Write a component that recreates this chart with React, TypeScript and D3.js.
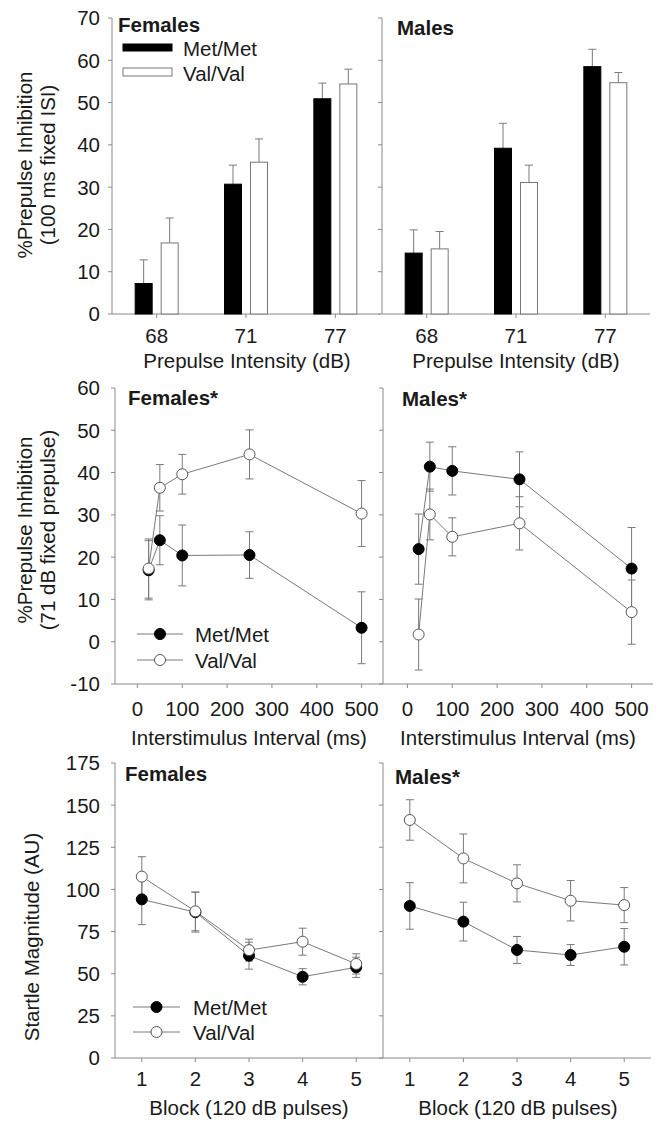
import React, { useEffect, useRef } from 'react';
import * as d3 from 'd3';

// ---- data ----
const intensities = ['68', '71', '77'];
const genotypes = ['Met/Met', 'Val/Val'];

const femaleBarMet = [7.2, 30.7, 50.9];
const femaleBarMetErr = [5.6, 4.5, 3.7];
const femaleBarVal = [16.8, 35.9, 54.4];
const femaleBarValErr = [5.9, 5.5, 3.5];
const maleBarMet = [14.4, 39.2, 58.5];
const maleBarMetErr = [5.5, 5.9, 4.1];
const maleBarVal = [15.4, 31.1, 54.7];
const maleBarValErr = [4.1, 4.1, 2.4];

const isiValues = [25, 50, 100, 250, 500];
const femaleIsiMet = [16.9, 24.0, 20.4, 20.5, 3.3];
const femaleIsiMetErr = [7.0, 5.8, 7.2, 5.5, 8.5];
const femaleIsiVal = [17.3, 36.4, 39.6, 44.3, 30.3];
const femaleIsiValErr = [7.0, 5.5, 4.7, 5.8, 7.8];
const maleIsiMet = [21.9, 41.4, 40.4, 38.4, 17.3];
const maleIsiMetErr = [8.3, 5.8, 5.7, 6.5, 9.7];
const maleIsiVal = [1.7, 30.1, 24.8, 28.0, 7.0];
const maleIsiValErr = [8.4, 6.0, 4.5, 6.3, 7.6];

const blocks = [1, 2, 3, 4, 5];
const femaleStartleMet = [94.1, 86.5, 60.7, 48.2, 53.8];
const femaleStartleMetErr = [15.0, 11.8, 8.0, 4.8, 6.0];
const femaleStartleVal = [107.6, 87.0, 64.0, 69.0, 55.8];
const femaleStartleValErr = [11.8, 11.5, 6.5, 8.0, 6.0];
const maleStartleMet = [90.2, 80.9, 64.1, 61.1, 66.0];
const maleStartleMetErr = [13.8, 11.5, 8.0, 6.2, 10.8];
const maleStartleVal = [141.2, 118.4, 103.6, 93.3, 90.7];
const maleStartleValErr = [12.0, 14.5, 11.0, 12.0, 10.4];

const barTicks = [0, 10, 20, 30, 40, 50, 60, 70];
const isiYTicks = [-10, 0, 10, 20, 30, 40, 50, 60];
const isiXTicks = [0, 100, 200, 300, 400, 500];
const startleTicks = [0, 25, 50, 75, 100, 125, 150, 175];

const FONT = '"Liberation Sans", Arial, sans-serif';
const FS = '20.5px';
const AXIS = '#8a8a8a';
const LINE = '#7a7a7a';
const TEXT = '#1a1a1a';

const App: React.FC = () => {
  const svgRef = useRef<SVGSVGElement>(null);

  useEffect(() => {
    if (!svgRef.current) return;
    const svg = d3.select(svgRef.current);
    svg.selectAll('*').remove();
    svg.style('font-family', FONT);

    const drawYAxis = (x: number, y: any, ticks: number[], labels: boolean, labelX: number) => {
      svg.append('line')
        .attr('x1', x).attr('x2', x)
        .attr('y1', y(ticks[ticks.length - 1])).attr('y2', y(ticks[0]))
        .style('stroke', AXIS).style('stroke-width', 1);
      ticks.forEach(t => {
        svg.append('line')
          .attr('x1', x - 4).attr('x2', x)
          .attr('y1', y(t)).attr('y2', y(t))
          .style('stroke', AXIS).style('stroke-width', 1);
        if (labels) {
          svg.append('text')
            .attr('x', labelX).attr('y', y(t))
            .attr('dy', '0.36em')
            .attr('text-anchor', 'end')
            .style('font-size', FS)
            .style('fill', TEXT)
            .text(t);
        }
      });
    };

    const drawXAxis = (x0: number, x1: number, y0: number, ticks: { pos: number; label: string }[], labelY: number) => {
      svg.append('line')
        .attr('x1', x0).attr('x2', x1)
        .attr('y1', y0).attr('y2', y0)
        .style('stroke', AXIS).style('stroke-width', 1);
      ticks.forEach(t => {
        svg.append('line')
          .attr('x1', t.pos).attr('x2', t.pos)
          .attr('y1', y0).attr('y2', y0 + 4)
          .style('stroke', AXIS).style('stroke-width', 1);
        svg.append('text')
          .attr('x', t.pos).attr('y', labelY)
          .attr('text-anchor', 'middle')
          .style('font-size', FS)
          .style('fill', TEXT)
          .text(t.label);
      });
    };

    const label = (x: number, y: number, text: string, opts: { bold?: boolean; rotate?: boolean; anchor?: string } = {}) => {
      const t = svg.append('text')
        .attr('x', x).attr('y', y)
        .attr('text-anchor', opts.anchor || 'middle')
        .style('font-size', FS)
        .style('font-weight', opts.bold ? 'bold' : 'normal')
        .style('fill', TEXT)
        .text(text);
      if (opts.rotate) t.attr('transform', `rotate(-90,${x},${y})`);
    };

    // ---------- Row 1: bars ----------
    const yBar = d3.scaleLinear().domain([0, 70]).range([314, 18]);
    const inner = d3.scaleBand().domain(genotypes).range([-21.5, 21.5]).paddingInner(0.346);

    const drawBars = (x0: number, x1: number, met: number[], metErr: number[], val: number[], valErr: number[], showLabels: boolean) => {
      const x = d3.scaleBand().domain(intensities).range([x0, x1]);
      drawYAxis(x0, yBar, barTicks, showLabels, 100);
      drawXAxis(x0, x1, yBar(0), intensities.map(d => ({ pos: x(d)! + x.bandwidth() / 2, label: d })), 343);
      const series = [
        { key: 'Met/Met', vals: met, errs: metErr, fill: '#000', stroke: '#000' },
        { key: 'Val/Val', vals: val, errs: valErr, fill: '#fff', stroke: '#777' },
      ];
      series.forEach(s => {
        intensities.forEach((cat, i) => {
          const cx = x(cat)! + x.bandwidth() / 2;
          const bx = cx + inner(s.key)!;
          const bw = inner.bandwidth();
          const top = yBar(s.vals[i]);
          const errTop = yBar(s.vals[i] + s.errs[i]);
          svg.append('line')
            .attr('x1', bx + bw / 2).attr('x2', bx + bw / 2)
            .attr('y1', top).attr('y2', errTop)
            .style('stroke', LINE).style('stroke-width', 1);
          svg.append('line')
            .attr('x1', bx + bw / 2 - 4).attr('x2', bx + bw / 2 + 4)
            .attr('y1', errTop).attr('y2', errTop)
            .style('stroke', LINE).style('stroke-width', 1);
          svg.append('rect')
            .attr('x', bx).attr('y', top)
            .attr('width', bw).attr('height', yBar(0) - top)
            .style('fill', s.fill)
            .style('stroke', s.stroke)
            .style('stroke-width', 1);
        });
      });
    };

    drawBars(112, 380, femaleBarMet, femaleBarMetErr, femaleBarVal, femaleBarValErr, true);
    drawBars(382, 650, maleBarMet, maleBarMetErr, maleBarVal, maleBarValErr, false);

    label(118, 32, 'Females', { bold: true, anchor: 'start' });
    label(397, 35, 'Males', { bold: true, anchor: 'start' });

    // bar legend
    svg.append('rect').attr('x', 123).attr('y', 44).attr('width', 49).attr('height', 7)
      .style('fill', '#000').style('stroke', '#000');
    svg.append('rect').attr('x', 123).attr('y', 68).attr('width', 49).attr('height', 8)
      .style('fill', '#fff').style('stroke', '#777');
    label(183, 56, 'Met/Met', { anchor: 'start' });
    label(183, 81, 'Val/Val', { anchor: 'start' });

    label(32, 165, '%Prepulse Inhibition', { rotate: true });
    label(55, 165, '(100 ms fixed ISI)', { rotate: true });
    label(247, 368, 'Prepulse Intensity (dB)');
    label(516, 368, 'Prepulse Intensity (dB)');

    // ---------- line plot helper ----------
    const drawSeries = (x: any, y: any, xs: number[], vals: number[], errs: number[], filled: boolean, stage: 'lines' | 'marks') => {
      if (stage === 'lines') {
        xs.forEach((xv, i) => {
          const px = x(xv);
          const lo = y(vals[i] - errs[i]);
          const hi = y(vals[i] + errs[i]);
          svg.append('line').attr('x1', px).attr('x2', px).attr('y1', lo).attr('y2', hi)
            .style('stroke', LINE).style('stroke-width', 1);
          [lo, hi].forEach(yy => {
            svg.append('line').attr('x1', px - 4).attr('x2', px + 4).attr('y1', yy).attr('y2', yy)
              .style('stroke', LINE).style('stroke-width', 1);
          });
        });
        const line = d3.line<number>().x((_, i) => x(xs[i])).y(d => y(d));
        svg.append('path').attr('d', line(vals)!)
          .style('fill', 'none').style('stroke', LINE).style('stroke-width', 1);
      } else {
        xs.forEach((xv, i) => {
          svg.append('circle')
            .attr('cx', x(xv)).attr('cy', y(vals[i]))
            .attr('r', 5.5)
            .style('fill', filled ? '#000' : '#fff')
            .style('stroke', filled ? '#000' : '#555')
            .style('stroke-width', 1);
        });
      }
    };

    const drawPanel = (x: any, y: any, xs: number[], met: number[], metErr: number[], val: number[], valErr: number[]) => {
      drawSeries(x, y, xs, met, metErr, true, 'lines');
      drawSeries(x, y, xs, val, valErr, false, 'lines');
      drawSeries(x, y, xs, met, metErr, true, 'marks');
      drawSeries(x, y, xs, val, valErr, false, 'marks');
    };

    const lineLegend = (x0: number, x1: number, y0: number, y1: number, textX: number) => {
      [{ y: y0, filled: true, text: 'Met/Met' }, { y: y1, filled: false, text: 'Val/Val' }].forEach(e => {
        svg.append('line').attr('x1', x0).attr('x2', x1).attr('y1', e.y).attr('y2', e.y)
          .style('stroke', LINE).style('stroke-width', 1);
        svg.append('circle').attr('cx', (x0 + x1) / 2).attr('cy', e.y).attr('r', 5.5)
          .style('fill', e.filled ? '#000' : '#fff')
          .style('stroke', e.filled ? '#000' : '#555');
        label(textX, e.y + 7.5, e.text, { anchor: 'start' });
      });
    };

    // ---------- Row 2: ISI ----------
    const yIsi = d3.scaleLinear().domain([-10, 60]).range([684, 388]);
    const xIsiL = d3.scaleLinear().domain([-50, 550]).range([115, 384]);
    const xIsiR = d3.scaleLinear().domain([-50, 550]).range([385, 654]);

    drawYAxis(115, yIsi, isiYTicks, true, 100);
    drawXAxis(115, 383, yIsi(-10), isiXTicks.map(t => ({ pos: xIsiL(t), label: String(t) })), 716);
    drawYAxis(383, yIsi, isiYTicks, false, 0);
    drawXAxis(383, 653, yIsi(-10), isiXTicks.map(t => ({ pos: xIsiR(t), label: String(t) })), 716);

    drawPanel(xIsiL, yIsi, isiValues, femaleIsiMet, femaleIsiMetErr, femaleIsiVal, femaleIsiValErr);
    drawPanel(xIsiR, yIsi, isiValues, maleIsiMet, maleIsiMetErr, maleIsiVal, maleIsiValErr);

    label(128, 405, 'Females*', { bold: true, anchor: 'start' });
    label(402, 406, 'Males*', { bold: true, anchor: 'start' });
    lineLegend(137, 183, 634, 660, 195);

    label(32, 530, '%Prepulse Inhibition', { rotate: true });
    label(55, 530, '(71 dB fixed prepulse)', { rotate: true });
    label(249, 745, 'Interstimulus Interval (ms)');
    label(518, 745, 'Interstimulus Interval (ms)');

    // ---------- Row 3: startle ----------
    const yStartle = d3.scaleLinear().domain([0, 175]).range([1058, 763]);
    const xBlockL = d3.scaleLinear().domain([0.5, 5.5]).range([115, 383]);
    const xBlockR = d3.scaleLinear().domain([0.5, 5.5]).range([383, 651]);

    drawYAxis(115, yStartle, startleTicks, true, 100);
    drawXAxis(115, 383, yStartle(0), blocks.map(b => ({ pos: xBlockL(b), label: String(b) })), 1086);
    drawYAxis(383, yStartle, startleTicks, false, 0);
    drawXAxis(383, 651, yStartle(0), blocks.map(b => ({ pos: xBlockR(b), label: String(b) })), 1086);

    drawPanel(xBlockL, yStartle, blocks, femaleStartleMet, femaleStartleMetErr, femaleStartleVal, femaleStartleValErr);
    drawPanel(xBlockR, yStartle, blocks, maleStartleMet, maleStartleMetErr, maleStartleVal, maleStartleValErr);

    label(125, 781, 'Females', { bold: true, anchor: 'start' });
    label(395, 784, 'Males*', { bold: true, anchor: 'start' });
    lineLegend(133, 180, 1007, 1032, 193);

    label(39, 937, 'Startle Magnitude (AU)', { rotate: true });
    label(249, 1115, 'Block (120 dB pulses)');
    label(518, 1115, 'Block (120 dB pulses)');
  }, []);

  return (
    <svg
      ref={svgRef}
      width={661}
      height={1122}
      style={{ position: 'absolute', left: 0, top: 0, background: '#fff' }}
    />
  );
};

export default App;
